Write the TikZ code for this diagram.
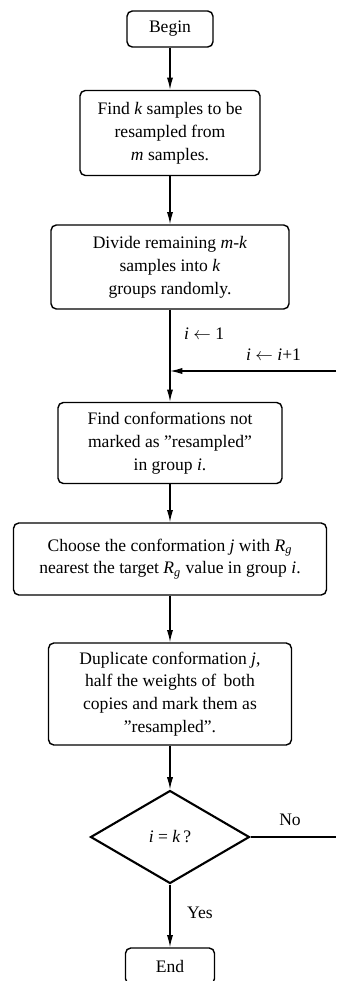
\documentclass[tikz,border=0pt]{standalone}
\usepackage{fontspec}
\setmainfont{Liberation Serif}
\usetikzlibrary{shapes.geometric,arrows.meta}

\begin{document}
\begin{tikzpicture}[x=0.02cm, y=-0.02cm,
    box/.style={draw, rounded corners=3pt, line width=0.8pt, align=center,
        inner sep=2pt, font=\fontsize{10}{13}\selectfont},
    decision/.style={draw, diamond, line width=1.2pt, inner sep=0pt,
        font=\fontsize{10}{13}\selectfont},
    label/.style={font=\fontsize{10}{13}\selectfont},
    arr/.style={-{Latex[length=7pt,width=3.5pt]}, line width=0.7pt}]

    % Frame of the picture (the loop runs off the right edge)
    \clip (0,0) rectangle (336,981);

    % Boxes of the flow chart, top to bottom
    \node[box, minimum width=1.72cm, minimum height=0.72cm] (begin) at (170,29) {Begin};
    \node[box, minimum width=3.6cm, minimum height=1.7cm] (find) at (170,133)
        {Find \textit{k} samples to be\\ resampled from\\ \textit{m} samples.};
    \node[box, minimum width=4.76cm, minimum height=1.68cm] (divide) at (170,267)
        {Divide remaining \textit{m-k}\\ samples into \textit{k}\\ groups randomly.};
    \node[box, minimum width=4.48cm, minimum height=1.62cm] (confs) at (170,443)
        {Find conformations not\\ marked as \char34 resampled\char34\\ in group \textit{i}.};
    \node[box, minimum width=6.26cm, minimum height=1.44cm] (choose) at (170,559)
        {Choose the conformation \textit{j} with \textit{R}\textsubscript{\textit{g}}\\
         nearest the target \textit{R}\textsubscript{\textit{g}} value in group \textit{i}.};
    \node[box, minimum width=4.86cm, minimum height=2.04cm] (dup) at (170,694)
        {Duplicate conformation \textit{j},\\ half the weights of\, both\\
         copies and mark them as\\ \char34 resampled\char34.};

    % The test at the end of each round
    \node[decision, minimum width=3.18cm, minimum height=1.86cm] (test) at (170,837)
        {\textit{i} = \textit{k}\,?};

    \node[box, minimum width=1.78cm, minimum height=0.72cm] (end) at (170,966) {End};

    % Points where the loop leaves and enters the picture
    \coordinate (loopout) at (336,837);
    \coordinate (loopin) at (336,371);
    \coordinate (join) at (divide.south |- loopin);

    % Connectors
    \draw[arr] (begin) -- (find);
    \draw[arr] (find) -- (divide);
    \draw[arr] (divide) -- (confs);
    \draw[arr] (loopin) -- (join);
    \draw[arr] (confs) -- (choose);
    \draw[arr] (choose) -- (dup);
    \draw[arr] (dup) -- (test);
    \draw[arr] (test) -- (end);
    \draw[line width=1.2pt] (test.east) -- (loopout);

    % Labels on the connectors
    \node[label, anchor=west] (start) at (178,334) {\textit{i} $\leftarrow$ 1};
    \node[label, anchor=west] (step) at (240,355) {\textit{i} $\leftarrow$ \textit{i}+1};
    \node[label] (no) at (290,820) {No};
    \node[label] (yes) at (200,913) {Yes};

\end{tikzpicture}
\end{document}
